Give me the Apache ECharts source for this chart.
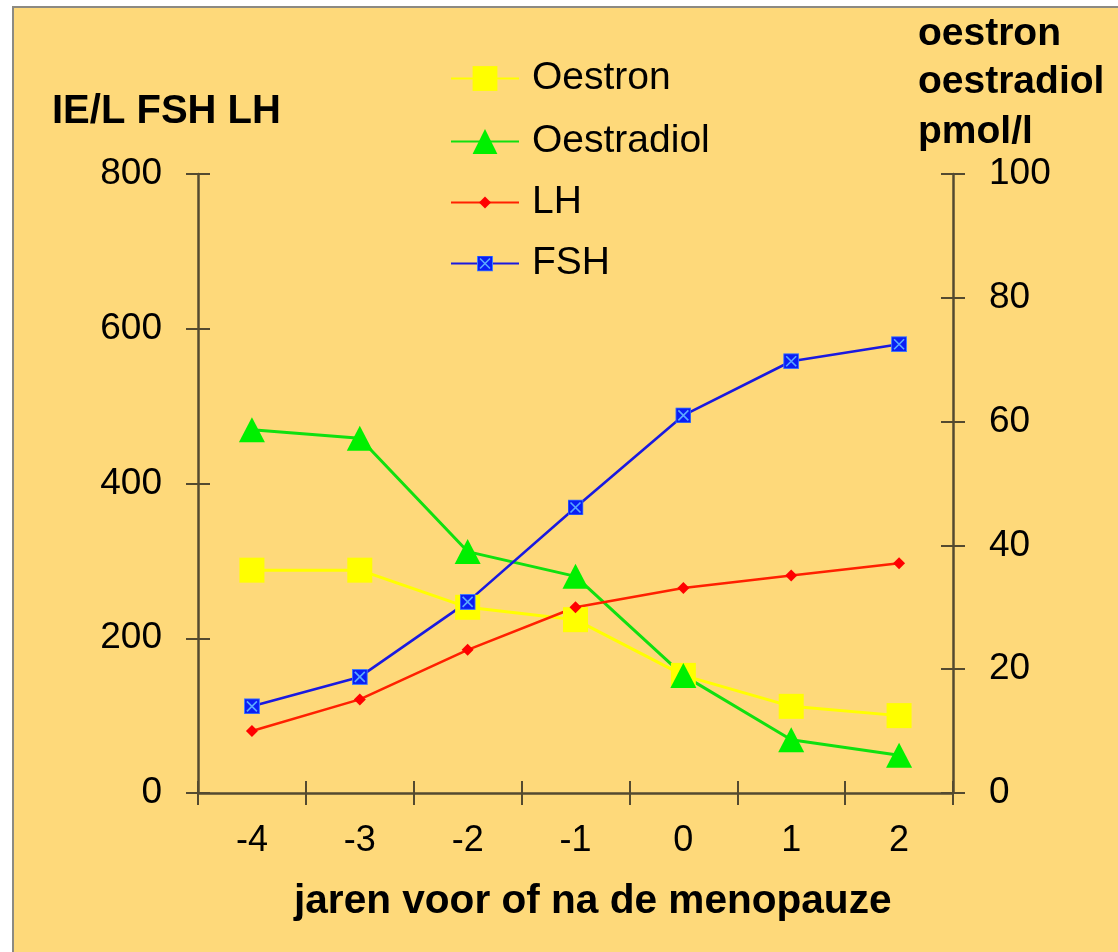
<!DOCTYPE html>
<html>
<head>
<meta charset="utf-8">
<script src="https://cdn.jsdelivr.net/npm/echarts@6/dist/echarts.min.js"></script>
<style>
  html, body { margin: 0; padding: 0; background: #fff; }
  #frame {
    position: absolute; left: 12px; top: 6px; right: 0; bottom: 0;
    background: #fed97a;
    border-left: 2px solid #8c8a82;
    border-top: 2px solid #8c8a82;
  }
  #chart { position: absolute; left: 0; top: 0; width: 1118px; height: 952px; }
</style>
</head>
<body>
<div id="frame"></div>
<div id="chart"></div>
<script>
// years before / after menopause
const years = ['-4', '-3', '-2', '-1', '0', '1', '2']
// pmol/l (right axis)
const oestron = [36, 36, 30, 28, 19, 14, 12.5]
const oestradiol = [58.7, 57.3, 39, 35, 19, 8.6, 6.1]
// IE/L (left axis)
const lh = [80, 121, 185, 240, 265, 281, 297]
const fsh = [112, 150, 247, 369, 488, 558, 580]
const leftTicks = { min: 0, max: 800, interval: 200 }
const rightTicks = { min: 0, max: 100, interval: 20 }

const FONT = 'Liberation Sans'
const axisColor = '#544a30'

const fshSymbol = 'image://data:image/svg+xml;utf8,' + encodeURIComponent(
  '<svg xmlns="http://www.w3.org/2000/svg" width="16" height="16">' +
  '<rect x="0.5" y="0.5" width="15" height="15" fill="#0a1ef5" stroke="#3f7dff"/>' +
  '<path d="M3 3 L13 13 M13 3 L3 13" stroke="#5aa8ff" stroke-width="1.6"/></svg>')

const legendRows = [
  { name: 'Oestron', center: 78, h: 31 },
  { name: 'Oestradiol', center: 141, h: 31 },
  { name: 'LH', center: 202, h: 15 },
  { name: 'FSH', center: 263, h: 20 }
]

const chart = echarts.init(document.getElementById('chart'))

const xTick = (inside) => ({
  type: 'category',
  data: years,
  position: 'bottom',
  axisLine: { show: !inside, lineStyle: { color: axisColor, width: 2.5 } },
  axisTick: { show: true, inside: inside, length: 12, lineStyle: { color: axisColor, width: 2 } },
  axisLabel: { show: !inside, margin: 30, color: '#000', fontSize: 36, fontFamily: FONT },
  splitLine: { show: false }
})

const yTick = (side, ticks, inside) => Object.assign({
  type: 'value',
  position: side,
  axisLine: { show: !inside, lineStyle: { color: axisColor, width: 2.5 } },
  axisTick: { show: true, inside: inside, length: 12, lineStyle: { color: axisColor, width: 2 } },
  axisLabel: { show: !inside, margin: 36, color: '#000', fontSize: 37, fontFamily: FONT },
  splitLine: { show: false }
}, ticks)

chart.setOption({
  backgroundColor: 'transparent',
  animation: false,
  grid: { left: 198, right: 165, top: 174, bottom: 159 },
  xAxis: [xTick(false), xTick(true)],
  yAxis: [
    yTick('left', leftTicks, false),
    yTick('right', rightTicks, false),
    yTick('left', leftTicks, true),
    yTick('right', rightTicks, true)
  ],
  legend: legendRows.map(r => ({
    data: [r.name],
    orient: 'vertical',
    left: 450,
    top: r.center - 19,
    padding: 0,
    itemWidth: 68,
    itemHeight: r.h,
    selectedMode: false,
    textStyle: { fontSize: 39, fontFamily: FONT, color: '#000', padding: [0, 0, 0, 8] }
  })),
  graphic: [
    { type: 'text', left: 52, top: 92, style: { text: 'IE/L FSH LH', font: 'bold 40px ' + FONT, fill: '#000' } },
    { type: 'text', left: 918, top: 15, style: { text: 'oestron', font: 'bold 39px ' + FONT, fill: '#000' } },
    { type: 'text', left: 918, top: 63, style: { text: 'oestradiol', font: 'bold 39px ' + FONT, fill: '#000' } },
    { type: 'text', left: 918, top: 113, style: { text: 'pmol/l', font: 'bold 39px ' + FONT, fill: '#000' } },
    { type: 'text', left: 294, top: 881, style: { text: 'jaren voor of na de menopauze', font: 'bold 40.6px ' + FONT, fill: '#000' } }
  ],
  series: [
    {
      name: 'Oestron', type: 'line', yAxisIndex: 1, data: oestron,
      symbol: 'rect', symbolSize: 25, showAllSymbol: true,
      itemStyle: { color: '#ffff00' }, lineStyle: { color: '#ffff00', width: 3 }
    },
    {
      name: 'Oestradiol', type: 'line', yAxisIndex: 1, data: oestradiol,
      symbol: 'triangle', symbolSize: [26, 25], showAllSymbol: true,
      itemStyle: { color: '#00f000' }, lineStyle: { color: '#10e010', width: 3 }
    },
    {
      name: 'LH', type: 'line', yAxisIndex: 0, data: lh,
      symbol: 'diamond', symbolSize: 12, showAllSymbol: true,
      itemStyle: { color: '#ff0000' }, lineStyle: { color: '#ff2000', width: 2.6 }
    },
    {
      name: 'FSH', type: 'line', yAxisIndex: 0, data: fsh,
      symbol: fshSymbol, symbolSize: 16, showAllSymbol: true,
      itemStyle: { color: '#0a1ef5' }, lineStyle: { color: '#1a1ae0', width: 2.6 }
    }
  ]
})
</script>
</body>
</html>
